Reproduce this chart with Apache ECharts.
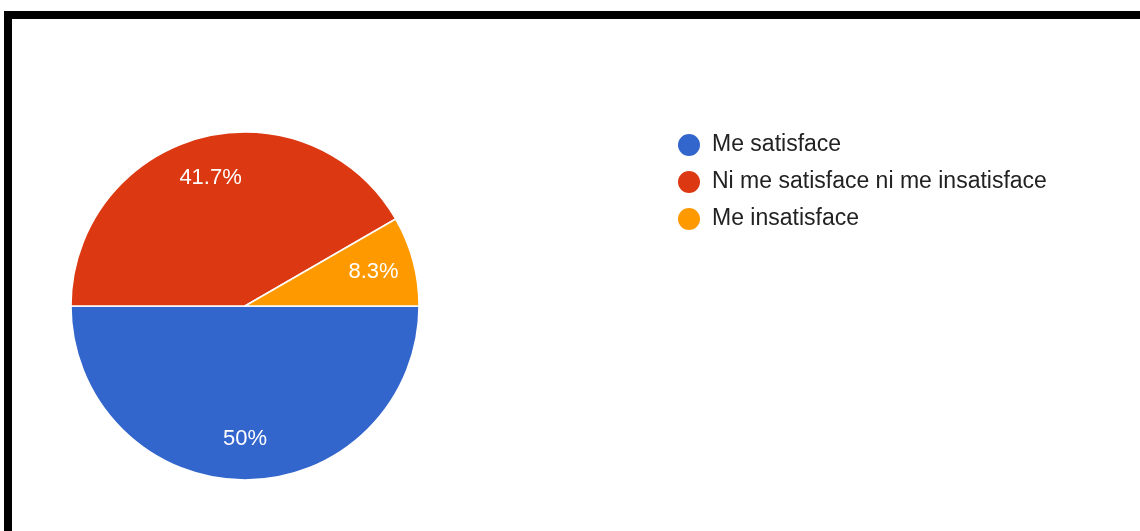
<!DOCTYPE html>
<html>
<head>
<meta charset="utf-8">
<style>
  html, body { margin: 0; padding: 0; background: #ffffff; }
  #chart { width: 1140px; height: 531px; }
</style>
<script src="https://cdn.jsdelivr.net/npm/echarts@6/dist/echarts.min.js"></script>
</head>
<body>
<div id="chart"></div>
<script>
// Survey answers: satisfaction level (counts out of 12 responses)
const categories = ['Me satisface', 'Ni me satisface ni me insatisface', 'Me insatisface'];
const counts = [6, 5, 1];
const sliceColors = ['#3366CC', '#DC3912', '#FF9900'];

const FONT = '"Liberation Sans", Arial, sans-serif';
const CX = 245, CY = 306, R = 174;

const pieData = categories.map((name, i) => ({
  name: name,
  value: counts[i],
  itemStyle: { color: sliceColors[i] }
}));

const total = counts.reduce((a, b) => a + b, 0);
function pctLabel(p) {
  const v = Math.round(p.value / total * 1000) / 10;
  return v + '%';
}

const chart = echarts.init(document.getElementById('chart'), null, { renderer: 'canvas' });

chart.setOption({
  backgroundColor: '#ffffff',
  animation: false,
  legend: {
    orient: 'vertical',
    left: 676,
    top: 132,
    padding: 0,
    icon: 'circle',
    itemWidth: 24,
    itemHeight: 24,
    itemGap: 11,
    data: categories,
    textStyle: { fontFamily: FONT, fontSize: 23, lineHeight: 23, color: '#222222', padding: [0, 0, 0, 6] }
  },
  graphic: [
    // black frame along the top and left edges
    { type: 'rect', shape: { x: 4, y: 11, width: 1136, height: 8 }, style: { fill: '#000000' }, silent: true },
    { type: 'rect', shape: { x: 4, y: 11, width: 8, height: 520 }, style: { fill: '#000000' }, silent: true }
  ],
  series: [
    {
      type: 'pie',
      center: [CX, CY],
      radius: [0, R],
      startAngle: 0,
      clockwise: true,
      avoidLabelOverlap: false,
      label: { show: false },
      labelLine: { show: false },
      itemStyle: { borderColor: '#ffffff', borderWidth: 1.5 },
      emphasis: { disabled: true },
      data: pieData
    },
    {
      // transparent ring that carries the percentage labels
      type: 'pie',
      center: [CX, CY],
      radius: [86, R],
      startAngle: 0,
      clockwise: true,
      silent: true,
      avoidLabelOverlap: false,
      itemStyle: { color: 'rgba(0,0,0,0)' },
      emphasis: { disabled: true },
      label: {
        show: true,
        position: 'inside',
        formatter: pctLabel,
        color: '#ffffff',
        fontFamily: FONT,
        fontSize: 22
      },
      labelLine: { show: false },
      data: categories.map((name, i) => ({ name: name, value: counts[i], itemStyle: { color: 'rgba(0,0,0,0)' } }))
    }
  ]
});
</script>
</body>
</html>
